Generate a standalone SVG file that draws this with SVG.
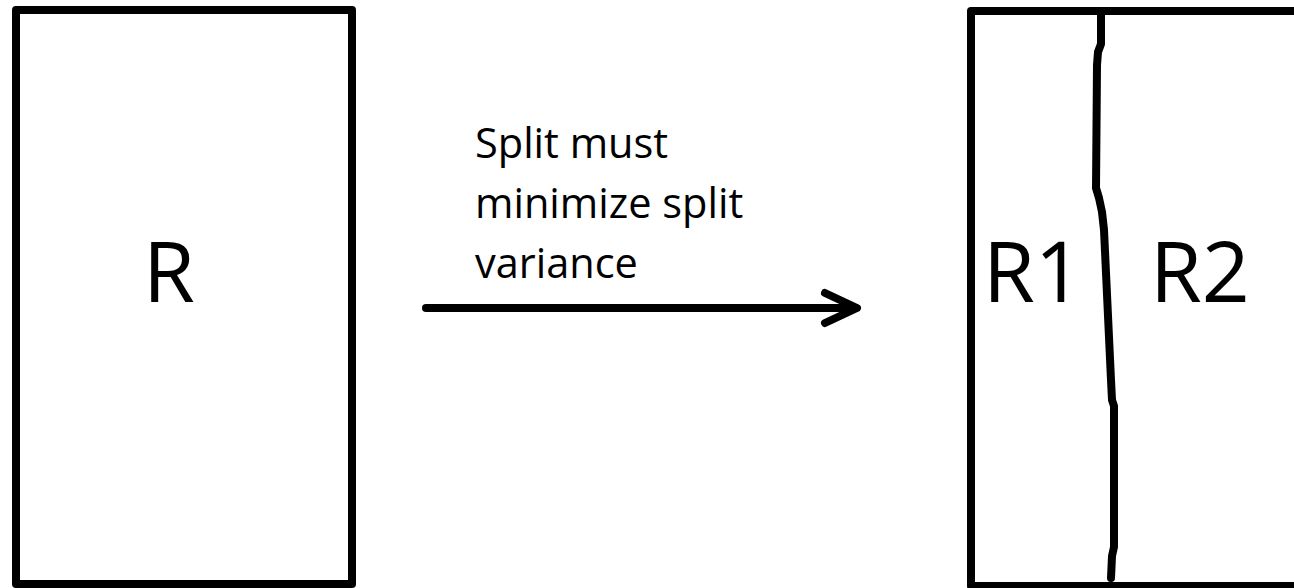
<svg xmlns="http://www.w3.org/2000/svg" width="1294" height="588" viewBox="0 0 1294 588">
  <style>
    .box { fill: #ffffff; stroke: #000000; stroke-width: 8; stroke-linejoin: round; }
    .line { fill: none; stroke: #000000; stroke-width: 8; stroke-linecap: round; stroke-linejoin: round; }
    .big { font-family: "Open Sans", "Liberation Sans", sans-serif; font-size: 84px; fill: #000000; }
    .note { font-family: "Open Sans", "Liberation Sans", sans-serif; font-size: 41.5px; fill: #000000; }
  </style>
  <rect width="1294" height="588" fill="#ffffff"/>

  <!-- original region -->
  <g id="region-r">
    <rect class="box" x="16" y="10" width="336" height="574"/>
    <text class="big" x="143" y="302">R</text>
  </g>

  <!-- region after the split -->
  <g id="region-split">
    <rect class="box" x="971" y="11" width="340" height="575"/>
    <path class="line" d="M1101,11 L1101,44 L1098,52 L1097,65 L1096,188 L1099,198 L1102,212 L1104,230 L1111,380 L1112,400 L1114,406 L1114,547 L1112,556 L1111,578"/>
    <text class="big" x="983" y="302">R1</text>
    <text class="big" x="1150" y="302">R2</text>
  </g>

  <!-- transformation arrow with its caption -->
  <g id="connectors">
    <line class="line" x1="426" y1="308" x2="855" y2="308"/>
    <polyline class="line" points="825,293 857,308 825,323"/>
    <text class="note" x="475" y="158">Split must</text>
    <text class="note" x="475" y="218">minimize split</text>
    <text class="note" x="475" y="278">variance</text>
  </g>
</svg>
